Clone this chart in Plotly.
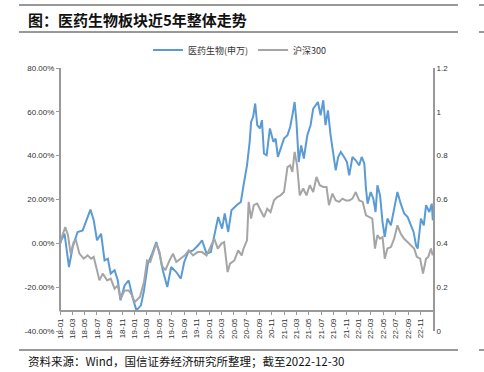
import plotly.graph_objects as go

# ---------------- data (% change since 2018-01-02) ----------------
med_dates = [
    "2018-01-02", "2018-01-07", "2018-01-23", "2018-02-14", "2018-03-04", "2018-03-28", "2018-04-22",
    "2018-05-08", "2018-05-30", "2018-06-15", "2018-07-01", "2018-07-21", "2018-08-07", "2018-08-23",
    "2018-09-06", "2018-09-25", "2018-10-11", "2018-10-24", "2018-11-13", "2018-12-03", "2018-12-24",
    "2019-01-10", "2019-02-01", "2019-02-16", "2019-03-07", "2019-03-28", "2019-04-17", "2019-05-03",
    "2019-05-19", "2019-06-10", "2019-06-29", "2019-07-24", "2019-08-15", "2019-09-01", "2019-09-20",
    "2019-10-14", "2019-11-08", "2019-11-27", "2019-12-19", "2020-01-09", "2020-01-29", "2020-02-14",
    "2020-03-04", "2020-03-17", "2020-04-03", "2020-04-19", "2020-05-14", "2020-06-04",
    "2020-06-17", "2020-07-04", "2020-07-17", "2020-07-24", "2020-08-03", "2020-08-13", "2020-08-23",
    "2020-09-05", "2020-09-15", "2020-09-25", "2020-10-08", "2020-10-24", "2020-11-10", "2020-11-21",
    "2020-12-02", "2020-12-19", "2021-01-01", "2021-01-18", "2021-01-31", "2021-02-11", "2021-02-22",
    "2021-03-03", "2021-03-14", "2021-03-26", "2021-04-08", "2021-04-25", "2021-05-11", "2021-05-24",
    "2021-06-05", "2021-06-16", "2021-06-29", "2021-07-12", "2021-07-23", "2021-08-04", "2021-08-17",
    "2021-08-31", "2021-09-11", "2021-09-23", "2021-10-06", "2021-10-22", "2021-11-05", "2021-11-16",
    "2021-12-02", "2021-12-18", "2022-01-04", "2022-01-16", "2022-01-29", "2022-02-06", "2022-02-14",
    "2022-03-01", "2022-03-14", "2022-03-25", "2022-04-03", "2022-04-16", "2022-04-28", "2022-05-09",
    "2022-05-22", "2022-06-08", "2022-06-24", "2022-07-10", "2022-07-26", "2022-08-12", "2022-08-29",
    "2022-09-14", "2022-09-27", "2022-10-09", "2022-10-17", "2022-11-02", "2022-11-16", "2022-11-27",
    "2022-12-13", "2022-12-25", "2022-12-30",
]
med_values = [
    0.0, 1.4, 4.4, -10.8, -1.7, 5.2, 5.9,
    9.7, 15.4, 10.5, 1.4, 4.4, -7.8, -7.0,
    -13.8, -12.3, -16.9, -26.0, -19.2, -16.9, -25.3,
    -30.6, -28.3, -21.5, -9.3, -4.7, 0.6, -4.7,
    -12.3, -19.9, -10.8, -13.1, -16.1, -8.5, -4.0,
    -3.2, -0.9, 1.4, -4.7, -4.0, 5.2, 12.0,
    6.7, 13.6, 5.2, 15.1, 17.4, 18.9,
    26.5, 35.6, 46.3, 55.4, 57.7, 63.8, 53.9,
    52.4, 56.2, 41.0, 40.2, 52.4, 46.3, 47.8,
    39.4, 44.0, 47.8, 49.3, 53.1, 58.4, 64.5,
    55.4, 37.1, 44.7, 38.7, 49.3, 53.9, 61.5,
    63.0, 64.5, 58.4, 65.3, 53.9, 60.7, 49.3,
    41.0, 33.3, 39.4, 41.7, 39.4, 37.1, 31.0,
    39.4, 37.9, 35.6, 39.4, 36.4, 25.0, 18.1,
    23.4, 20.4, 14.3, 26.5, 21.9, 9.7, 2.9,
    11.3, 8.2, 15.1, 23.4, 18.1, 13.6, 12.0,
    8.2, 5.2, -0.9, -2.4, 11.3, 8.2, 17.4,
    14.3, 18.1, 10.5,
]

hs_dates = [
    "2018-01-02", "2018-01-07", "2018-01-27", "2018-02-09", "2018-02-22", "2018-03-09", "2018-03-20",
    "2018-04-06", "2018-04-27", "2018-05-16", "2018-06-02", "2018-06-15", "2018-07-01", "2018-07-13",
    "2018-07-29", "2018-08-20", "2018-09-06", "2018-09-25", "2018-10-11", "2018-10-24", "2018-11-13",
    "2018-12-03", "2018-12-19", "2019-01-02", "2019-01-27", "2019-02-16", "2019-03-03", "2019-03-19",
    "2019-04-17", "2019-05-03", "2019-05-14", "2019-05-31", "2019-06-21", "2019-07-08", "2019-07-24",
    "2019-08-15", "2019-09-04", "2019-09-23", "2019-10-14", "2019-11-05", "2019-11-27", "2019-12-19",
    "2020-01-09", "2020-01-26", "2020-02-12", "2020-03-01", "2020-03-14", "2020-03-31", "2020-04-12",
    "2020-05-03", "2020-05-22", "2020-06-08", "2020-06-17", "2020-07-04", "2020-07-12", "2020-07-24",
    "2020-08-06", "2020-08-23", "2020-09-08", "2020-09-25", "2020-10-11", "2020-10-27", "2020-11-13",
    "2020-11-29", "2020-12-15", "2021-01-01", "2021-01-18", "2021-01-31", "2021-02-11", "2021-02-22",
    "2021-03-06", "2021-03-19", "2021-04-05", "2021-04-21", "2021-05-07", "2021-05-24", "2021-06-09",
    "2021-06-25", "2021-07-12", "2021-07-28", "2021-08-09", "2021-08-26", "2021-09-11", "2021-09-28",
    "2021-10-14", "2021-10-30", "2021-11-16", "2021-12-02", "2021-12-18", "2022-01-04", "2022-01-21",
    "2022-02-06", "2022-02-23", "2022-03-09", "2022-03-22", "2022-04-03", "2022-04-16", "2022-04-28",
    "2022-05-09", "2022-05-22", "2022-06-08", "2022-06-24", "2022-07-10", "2022-07-26", "2022-08-12",
    "2022-08-29", "2022-09-14", "2022-09-30", "2022-10-13", "2022-10-29", "2022-11-12", "2022-11-27",
    "2022-12-08", "2022-12-21", "2022-12-30",
]
hs_values = [
    0.0, 2.1, 7.4, 3.7, -4.7, 0.6, 1.4,
    -4.7, -7.0, -5.5, -7.0, -6.2, -12.3, -16.9,
    -13.8, -16.9, -16.1, -20.7, -19.2, -25.3, -21.5,
    -21.5, -23.7, -26.8, -24.5, -17.7, -7.8, -8.5,
    -0.1, -4.0, -10.0, -12.3, -7.8, -4.7, -8.5,
    -7.0, -5.5, -3.2, -5.5, -4.0, -4.0, -5.5,
    -1.7, 2.1, -2.4, -0.1, 0.6, -13.1, -9.3,
    -7.8, -3.2, -5.5, -2.4, 1.4, 18.9, 11.3,
    17.4, 18.1, 15.1, 12.0, 15.8, 14.3, 19.6,
    21.1, 21.9, 23.4, 34.8, 35.6, 32.6, 41.7,
    35.6, 21.9, 25.0, 21.9, 26.5, 23.4, 30.3,
    26.5, 25.7, 25.7, 17.4, 22.7, 19.6, 18.9,
    20.4, 19.6, 19.6, 20.4, 23.4, 19.6, 18.9,
    12.8, 12.0, 11.3, -2.4, 3.7, 2.1, 2.9,
    -7.0, -2.4, -1.7, 2.1, 8.2, 4.4, 2.1,
    0.6, -0.9, -2.4, -6.2, -7.0, -13.8, -7.0,
    -6.2, -2.4, -5.5,
]

series_names = ["医药生物(申万)", "沪深300"]

left_ticks = [-40, -20, 0, 20, 40, 60, 80]
right_ticks = [0, 0.2, 0.4, 0.6, 0.8, 1.0, 1.2]
right_tick_text = ["0", "0.2", "0.4", "0.6", "0.8", "1", "1.2"]
x_tick_dates = [f"{2018 + i // 6}-{(i % 6) * 2 + 1:02d}-01" for i in range(30)]
x_tick_text = [d[2:7] for d in x_tick_dates]

title_text = "图：医药生物板块近5年整体走势"
source_text = "资料来源：Wind，国信证券经济研究所整理；截至2022-12-30"

# ---------------- figure ----------------
W, H = 484, 372
ML, MR, MT, MB = 60, 51, 68, 41
Y_MIN, Y_MAX = -40, 80
X_CROSS = -31  # value where the date axis crosses the left axis

BLUE = "#5B9BD5"
GREY = "#A5A5A5"
AXIS = "#999999"
CJK = "Noto Sans CJK SC"

fig = go.Figure()
fig.add_trace(go.Scatter(x=med_dates, y=med_values, name=series_names[0], mode="lines",
                         line=dict(color=BLUE, width=2)))
fig.add_trace(go.Scatter(x=hs_dates, y=hs_values, name=series_names[1], mode="lines",
                         line=dict(color=GREY, width=2)))
# invisible trace to activate the right axis
fig.add_trace(go.Scatter(x=[med_dates[0]], y=[0], yaxis="y2", mode="markers",
                         marker=dict(opacity=0), showlegend=False, hoverinfo="skip"))

fig.update_layout(
    width=W, height=H,
    margin=dict(l=ML, r=MR, t=MT, b=MB, pad=0),
    paper_bgcolor="white", plot_bgcolor="white",
    font=dict(family="Liberation Sans, Arial", size=9, color="#222"),
    showlegend=True,
    legend=dict(orientation="h", x=(240 - ML) / (W - ML - MR), xanchor="center",
                y=(H - MB - 50) / (H - MT - MB), yanchor="middle",
                font=dict(family=CJK, size=9, color="#333"), itemwidth=30,
                bgcolor="rgba(0,0,0,0)", tracegroupgap=0),
    xaxis=dict(
        type="date", range=["2018-01-01", "2022-12-31"],
        anchor="free", position=(X_CROSS - Y_MIN) / (Y_MAX - Y_MIN),
        showgrid=False, zeroline=False,
        showline=True, linecolor=AXIS, linewidth=2,
        ticks="outside", ticklen=3, tickcolor=AXIS, tickwidth=1,
        tickvals=x_tick_dates, ticktext=x_tick_text, tickangle=-90,
        tickfont=dict(size=8, color="#333"),
    ),
    yaxis=dict(
        range=[Y_MIN, Y_MAX], showgrid=False, zeroline=False, showline=False,
        tickvals=left_ticks, ticktext=[f"{v:.2f}%" for v in left_ticks],
        ticks="outside", ticklen=3, tickcolor=AXIS,
        tickfont=dict(size=8, color="#333"),
    ),
    yaxis2=dict(
        overlaying="y", side="right", range=[0, 1.2], showgrid=False, zeroline=False,
        showline=True, linecolor=AXIS, linewidth=2,
        tickvals=right_ticks, ticktext=right_tick_text, ticks="",
        tickfont=dict(size=8, color="#333"),
    ),
)

shapes = [
    # left value axis line (from the date axis up to the top)
    dict(type="line", xref="paper", yref="y", x0=0, x1=0, y0=X_CROSS, y1=Y_MAX,
         line=dict(color=AXIS, width=2)),
]
# header / footer rules (pixel positions converted to paper coords)
def px_x(p):
    return (p - ML) / (W - ML - MR)
def px_y(p):
    return (H - MB - p) / (H - MT - MB)
for yy in (5, 32):
    shapes.append(dict(type="line", xref="paper", yref="paper", x0=px_x(19), x1=px_x(458),
                       y0=px_y(yy), y1=px_y(yy), line=dict(color="#333", width=1)))
    shapes.append(dict(type="line", xref="paper", yref="paper", x0=px_x(479), x1=px_x(484),
                       y0=px_y(yy), y1=px_y(yy), line=dict(color="#333", width=1)))
shapes.append(dict(type="line", xref="paper", yref="paper", x0=px_x(19), x1=px_x(458),
                   y0=px_y(350), y1=px_y(350), line=dict(color="#333", width=1)))
shapes.append(dict(type="line", xref="paper", yref="paper", x0=px_x(479), x1=px_x(484),
                   y0=px_y(350), y1=px_y(350), line=dict(color="#333", width=1)))
fig.update_layout(shapes=shapes)

fig.add_annotation(text=f"<b>{title_text}</b>", xref="paper", yref="paper",
                   x=px_x(26), y=px_y(19), xanchor="left", yanchor="middle", showarrow=False,
                   font=dict(family=CJK, size=15, color="#111"))
fig.add_annotation(text=source_text, xref="paper", yref="paper",
                   x=px_x(26), y=px_y(361), xanchor="left", yanchor="middle", showarrow=False,
                   font=dict(family=CJK, size=11.5, color="#111"))

fig.write_html("out.html", config={"displayModeBar": False},
               post_script="document.body.style.margin='0';document.body.style.overflow='hidden';")
